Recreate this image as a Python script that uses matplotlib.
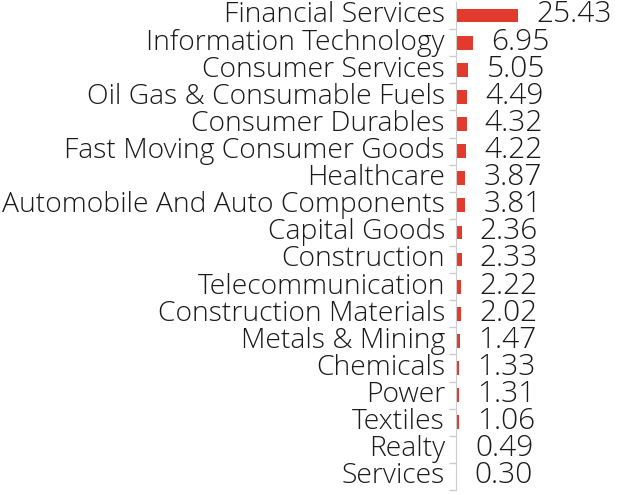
import numpy as np
import matplotlib
matplotlib.use('Agg')
from matplotlib import pyplot as plt

sectors = ['Financial Services', 'Information Technology', 'Consumer Services',
           'Oil Gas & Consumable Fuels', 'Consumer Durables',
           'Fast Moving Consumer Goods', 'Healthcare',
           'Automobile And Auto Components', 'Capital Goods', 'Construction',
           'Telecommunication', 'Construction Materials', 'Metals & Mining',
           'Chemicals', 'Power', 'Textiles', 'Realty', 'Services']
weights = [25.43, 6.95, 5.05, 4.49, 4.32, 4.22, 3.87, 3.81, 2.36, 2.33,
           2.22, 2.02, 1.47, 1.33, 1.31, 1.06, 0.49, 0.30]

plt.rcParams['font.family'] = ['Open Sans', 'DejaVu Sans']

fig = plt.figure(figsize=(6.41, 4.95), dpi=100)
ax = fig.add_axes([456 / 641, 5 / 495, 185 / 641, 488 / 495])

y = np.arange(len(sectors))
ax.barh(y, weights, height=0.51, color='#E23B2E')
for yi, w, name in zip(y, weights, sectors):
    # value at the bar end
    ax.annotate(f'{w:.2f}', (w, yi), xytext=(13, -5), textcoords='offset points',
                va='baseline', ha='left', fontsize=21.5, fontweight='light', color='#1a1a1a')
    # category name left of the axis
    ax.annotate(name, (0, yi), xycoords=('axes fraction', 'data'),
                xytext=(-8, -5), textcoords='offset points',
                va='baseline', ha='right', fontsize=20.3, fontweight='light', color='#1a1a1a')

ax.set_xlim(0, 75.8)
ax.set_ylim(len(sectors) - 0.5, -0.5)
ax.set_yticks(np.arange(len(sectors)) + 0.5)
ax.set_yticklabels([])
ax.tick_params(axis='y', length=5, color='#cccccc', width=1)
ax.set_xticks([])
for s in ['top', 'right', 'bottom']:
    ax.spines[s].set_visible(False)
ax.spines['left'].set_color('#cccccc')

fig.savefig('out.png', dpi=100)
